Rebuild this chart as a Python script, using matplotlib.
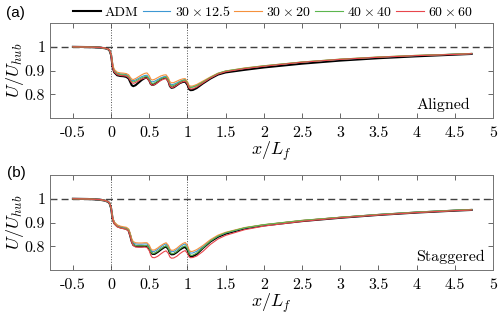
import matplotlib
matplotlib.use("Agg")
from matplotlib import pyplot as plt

plt.rcParams['font.family'] = 'cmr10'
plt.rcParams['mathtext.fontset'] = 'cm'
plt.rcParams['axes.unicode_minus'] = False
plt.rcParams['axes.formatter.use_mathtext'] = True

# streamwise positions (x / L_f)
x = [-0.5, -0.3, -0.15, -0.08, -0.04, -0.02, 0.0, 0.02, 0.04, 0.08, 0.12, 0.16, 0.2, 0.23,
     0.25, 0.27, 0.29, 0.32, 0.36, 0.4, 0.44, 0.47, 0.5, 0.52, 0.54, 0.57, 0.61, 0.65,
     0.69, 0.72, 0.75, 0.77, 0.79, 0.82, 0.86, 0.9, 0.94, 0.97, 1.0, 1.02, 1.04, 1.07,
     1.12, 1.2, 1.3, 1.4, 1.5, 1.75, 2.0, 2.5, 3.0, 3.5, 4.0, 4.5, 4.72]

# (a) aligned
adm_a = [1.000, 0.999, 0.997, 0.994, 0.990, 0.984, 0.965, 0.915, 0.893, 0.880, 0.877, 0.876, 0.873, 0.866,
         0.852, 0.838, 0.834, 0.838, 0.849, 0.860, 0.868, 0.870, 0.858, 0.843, 0.839, 0.842, 0.852, 0.862,
         0.868, 0.869, 0.855, 0.834, 0.827, 0.829, 0.838, 0.847, 0.852, 0.853, 0.840, 0.822, 0.817, 0.818,
         0.826, 0.845, 0.866, 0.883, 0.892, 0.903, 0.913, 0.929, 0.942, 0.952, 0.960, 0.967, 0.970]
c30x12_a = [1.000, 0.999, 0.997, 0.994, 0.990, 0.985, 0.968, 0.922, 0.900, 0.889, 0.886, 0.885, 0.883, 0.877,
            0.866, 0.858, 0.857, 0.860, 0.867, 0.874, 0.879, 0.880, 0.868, 0.855, 0.852, 0.855, 0.862, 0.869,
            0.874, 0.876, 0.863, 0.845, 0.840, 0.842, 0.848, 0.855, 0.860, 0.862, 0.850, 0.834, 0.830, 0.831,
            0.837, 0.852, 0.870, 0.887, 0.897, 0.909, 0.919, 0.935, 0.947, 0.956, 0.963, 0.969, 0.971]
c30x20_a = [1.000, 0.999, 0.997, 0.994, 0.990, 0.985, 0.970, 0.928, 0.905, 0.893, 0.890, 0.889, 0.887, 0.882,
            0.872, 0.864, 0.862, 0.866, 0.874, 0.882, 0.888, 0.890, 0.878, 0.864, 0.860, 0.863, 0.870, 0.877,
            0.881, 0.882, 0.869, 0.853, 0.848, 0.849, 0.855, 0.861, 0.865, 0.866, 0.853, 0.838, 0.834, 0.835,
            0.841, 0.855, 0.873, 0.889, 0.898, 0.911, 0.920, 0.936, 0.948, 0.957, 0.964, 0.969, 0.972]
c40x40_a = [1.000, 0.999, 0.998, 0.995, 0.991, 0.986, 0.967, 0.918, 0.897, 0.886, 0.883, 0.882, 0.880, 0.873,
            0.862, 0.854, 0.852, 0.855, 0.862, 0.869, 0.874, 0.875, 0.863, 0.849, 0.845, 0.848, 0.856, 0.864,
            0.870, 0.872, 0.859, 0.840, 0.835, 0.837, 0.844, 0.852, 0.858, 0.860, 0.847, 0.831, 0.828, 0.830,
            0.836, 0.851, 0.871, 0.888, 0.898, 0.910, 0.920, 0.936, 0.948, 0.957, 0.964, 0.969, 0.972]
c60x60_a = [1.000, 0.999, 0.998, 0.995, 0.991, 0.986, 0.966, 0.915, 0.894, 0.882, 0.879, 0.878, 0.876, 0.869,
            0.858, 0.849, 0.846, 0.849, 0.857, 0.864, 0.868, 0.868, 0.856, 0.842, 0.838, 0.841, 0.849, 0.858,
            0.864, 0.866, 0.853, 0.834, 0.828, 0.830, 0.838, 0.847, 0.853, 0.855, 0.843, 0.826, 0.822, 0.823,
            0.830, 0.847, 0.868, 0.885, 0.895, 0.908, 0.918, 0.935, 0.947, 0.956, 0.963, 0.968, 0.971]

# (b) staggered
adm_b = [1.000, 0.999, 0.996, 0.992, 0.987, 0.981, 0.960, 0.915, 0.898, 0.885, 0.880, 0.877, 0.874, 0.866,
         0.845, 0.820, 0.806, 0.801, 0.800, 0.800, 0.801, 0.801, 0.790, 0.775, 0.768, 0.768, 0.776, 0.786,
         0.795, 0.799, 0.788, 0.772, 0.766, 0.767, 0.775, 0.786, 0.794, 0.797, 0.785, 0.765, 0.757, 0.758,
         0.767, 0.792, 0.820, 0.840, 0.853, 0.875, 0.888, 0.906, 0.920, 0.932, 0.942, 0.950, 0.953]
c30x12_b = [1.000, 0.999, 0.996, 0.992, 0.987, 0.981, 0.962, 0.918, 0.900, 0.887, 0.882, 0.879, 0.877, 0.870,
            0.851, 0.828, 0.815, 0.810, 0.809, 0.809, 0.810, 0.810, 0.799, 0.784, 0.778, 0.779, 0.787, 0.797,
            0.806, 0.810, 0.799, 0.783, 0.777, 0.778, 0.786, 0.797, 0.806, 0.810, 0.798, 0.779, 0.771, 0.772,
            0.779, 0.798, 0.824, 0.843, 0.856, 0.877, 0.890, 0.908, 0.921, 0.933, 0.943, 0.951, 0.954]
c30x20_b = [1.000, 0.999, 0.996, 0.992, 0.987, 0.981, 0.964, 0.922, 0.903, 0.890, 0.885, 0.882, 0.880, 0.873,
            0.855, 0.832, 0.820, 0.815, 0.814, 0.814, 0.815, 0.815, 0.805, 0.790, 0.784, 0.785, 0.793, 0.803,
            0.811, 0.815, 0.804, 0.789, 0.783, 0.784, 0.792, 0.803, 0.812, 0.816, 0.804, 0.786, 0.778, 0.779,
            0.786, 0.803, 0.828, 0.847, 0.859, 0.879, 0.891, 0.909, 0.922, 0.933, 0.943, 0.951, 0.954]
c40x40_b = [1.000, 0.999, 0.997, 0.993, 0.988, 0.982, 0.960, 0.913, 0.895, 0.883, 0.878, 0.876, 0.874, 0.867,
            0.847, 0.822, 0.808, 0.803, 0.802, 0.802, 0.803, 0.803, 0.792, 0.776, 0.770, 0.771, 0.779, 0.789,
            0.798, 0.802, 0.791, 0.775, 0.769, 0.770, 0.778, 0.789, 0.798, 0.802, 0.790, 0.770, 0.762, 0.763,
            0.771, 0.793, 0.822, 0.843, 0.857, 0.878, 0.891, 0.909, 0.922, 0.934, 0.944, 0.952, 0.955]
c60x60_b = [1.000, 0.999, 0.997, 0.993, 0.988, 0.982, 0.961, 0.914, 0.895, 0.882, 0.877, 0.874, 0.871, 0.863,
            0.842, 0.818, 0.803, 0.797, 0.796, 0.796, 0.797, 0.795, 0.781, 0.762, 0.753, 0.752, 0.758, 0.768,
            0.777, 0.781, 0.770, 0.755, 0.750, 0.751, 0.758, 0.769, 0.778, 0.782, 0.770, 0.756, 0.752, 0.753,
            0.759, 0.778, 0.808, 0.831, 0.846, 0.870, 0.885, 0.905, 0.920, 0.932, 0.942, 0.950, 0.953]

labels = ['ADM', r'$30\times12.5$', r'$30\times20$', r'$40\times40$', r'$60\times60$']
colors = ['black', '#3d98d3', '#f5913c', '#5cb64e', '#e8464c']
widths = [1.5, 0.8, 0.8, 0.8, 0.8]

xticks = [-0.5, 0, 0.5, 1, 1.5, 2, 2.5, 3, 3.5, 4, 4.5, 5]
xtick_labels = ['-0.5', '0', '0.5', '1', '1.5', '2', '2.5', '3', '3.5', '4', '4.5', '5']
yticks = [0.8, 0.9, 1.0]
ytick_labels = ['0.8', '0.9', '1']

fig = plt.figure(figsize=(5, 3.17), dpi=100)
ax1 = fig.add_axes([0.1, 0.628, 0.886, 0.299])
ax2 = fig.add_axes([0.1, 0.148, 0.886, 0.300])

panels = [
    (ax1, [adm_a, c30x12_a, c30x20_a, c40x40_a, c60x60_a], 'Aligned', '(a)', 1.11),
    (ax2, [adm_b, c30x12_b, c30x20_b, c40x40_b, c60x60_b], 'Staggered', '(b)', 1.026),
]

for ax, series, name, tag, tag_y in panels:
    ax.axhline(1.0, color='0.25', lw=1.0, dashes=(5, 3), zorder=1)
    ax.axvline(0, color='0.3', lw=0.7, ls=':', zorder=1)
    ax.axvline(1, color='0.3', lw=0.7, ls=':', zorder=1)
    for ys, lab, c, w in zip(series, labels, colors, widths):
        ax.plot(x, ys, color=c, lw=w, label=lab, zorder=2)
    ax.set_xlim(-0.8, 5)
    ax.set_ylim(0.7, 1.1)
    ax.set_xticks(xticks)
    ax.set_xticklabels(xtick_labels)
    ax.set_yticks(yticks)
    ax.set_yticklabels(ytick_labels)
    ax.tick_params(direction='in', top=True, right=True, length=3.5, width=0.6,
                   labelsize=11.5, color='0.3')
    ax.tick_params(axis='x', pad=6)
    for sp in ax.spines.values():
        sp.set_color('0.45')
        sp.set_linewidth(0.7)
    ax.set_xlabel(r'$x/L_f$', fontsize=13, labelpad=0)
    ax.set_ylabel(r'$U/U_{hub}$', fontsize=13, labelpad=-1)
    ax.text(4.0, 0.755, name, fontsize=11.5, ha='left', va='center')
    ax.text(-0.077, tag_y, tag, transform=ax.transAxes,
            fontsize=11, family='Liberation Sans', ha='center', va='center')

handles, labs = ax1.get_legend_handles_labels()
fig.legend(handles, labs, loc='center', bbox_to_anchor=(0.546, 0.962), ncol=5,
           frameon=False, fontsize=10, handlelength=2.0, handletextpad=0.3,
           columnspacing=0.3, borderaxespad=0, borderpad=0)

fig.savefig('out.png', dpi=100)
